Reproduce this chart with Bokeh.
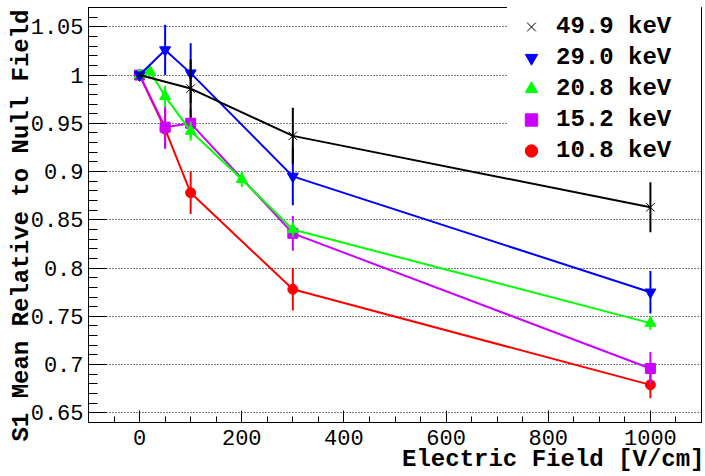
from bokeh.plotting import figure
from bokeh.models import Legend, LegendItem, FixedTicker, CustomJSTickFormatter, Title
from bokeh.embed import file_html
from bokeh.resources import INLINE

# ---- data ----
fields_499 = [0, 100, 300, 1000]
s1_499 = [1.0, 0.986, 0.937, 0.863]
err_499 = [0.0, 0.030, 0.029, 0.026]

fields_290 = [0, 50, 100, 300, 1000]
s1_290 = [1.0, 1.026, 1.002, 0.895, 0.775]
err_290 = [0.0, 0.026, 0.031, 0.030, 0.022]

fields_208 = [0, 20, 50, 100, 200, 300, 1000]
s1_208 = [1.0, 1.004, 0.978, 0.942, 0.892, 0.840, 0.743]
err_208 = [0.0, 0.007, 0.011, 0.010, 0.008, 0.008, 0.007]

fields_152 = [0, 50, 100, 300, 1000]
s1_152 = [1.0, 0.946, 0.950, 0.836, 0.696]
err_152 = [0.0, 0.022, 0.015, 0.018, 0.017]

fields_108 = [0, 50, 100, 300, 1000]
s1_108 = [1.0, 0.944, 0.878, 0.778, 0.679]
err_108 = [0.0, 0.020, 0.022, 0.022, 0.014]

x_major_ticks = [0, 200, 400, 600, 800, 1000]
x_minor_ticks = [-100, -50, 0, 50, 100, 150, 200, 250, 300, 350, 400, 450, 500,
                 550, 600, 650, 700, 750, 800, 850, 900, 950, 1000, 1050, 1100]
y_major_ticks = [0.65, 0.70, 0.75, 0.80, 0.85, 0.90, 0.95, 1.00, 1.05]
y_minor_ticks = [0.64, 0.65, 0.66, 0.67, 0.68, 0.69, 0.70, 0.71, 0.72, 0.73, 0.74,
                 0.75, 0.76, 0.77, 0.78, 0.79, 0.80, 0.81, 0.82, 0.83, 0.84, 0.85,
                 0.86, 0.87, 0.88, 0.89, 0.90, 0.91, 0.92, 0.93, 0.94, 0.95, 0.96,
                 0.97, 0.98, 0.99, 1.00, 1.01, 1.02, 1.03, 1.04, 1.05, 1.06, 1.07]

x_title = "Electric Field [V/cm]"
y_title = "S1 Mean Relative to Null Field"

series = [
    # label, x, y, err, color, marker, size
    ("10.8 keV", fields_108, s1_108, err_108, "#ff0000", "circle", 10),
    ("15.2 keV", fields_152, s1_152, err_152, "#cc00ff", "square", 10),
    ("20.8 keV", fields_208, s1_208, err_208, "#00ff00", "triangle", 11),
    ("29.0 keV", fields_290, s1_290, err_290, "#0000ff", "inverted_triangle", 11),
    ("49.9 keV", fields_499, s1_499, err_499, "#000000", "x", 12),
]

FONT = "Liberation Mono"

p = figure(width=705, height=476, x_range=(-100, 1100), y_range=(0.64, 1.07),
           output_backend="svg", toolbar_location=None,
           min_border_left=88, min_border_right=4, min_border_top=7,
           min_border_bottom=54)
p.background_fill_color = "white"
p.border_fill_color = "white"
p.outline_line_color = "black"
p.outline_line_width = 1

p.xgrid.visible = False
p.ygrid.grid_line_color = "black"
p.ygrid.grid_line_dash = "1 2"
p.ygrid.grid_line_width = 1

p.xaxis.ticker = FixedTicker(ticks=x_major_ticks, minor_ticks=x_minor_ticks)
p.yaxis.ticker = FixedTicker(ticks=y_major_ticks, minor_ticks=y_minor_ticks)
p.yaxis.formatter = CustomJSTickFormatter(
    code="return tick.toFixed(2).replace(/0+$/, '').replace(/\\.$/, '');")

for ax in (p.xaxis[0], p.yaxis[0]):
    ax.axis_line_color = "black"
    ax.major_tick_line_color = "black"
    ax.minor_tick_line_color = "black"
    ax.major_tick_out = 0
    ax.minor_tick_out = 0
    ax.major_label_text_font = FONT
    ax.major_label_text_font_size = "22px"
    ax.major_label_text_color = "black"
p.xaxis.major_tick_in = 12
p.xaxis.minor_tick_in = 6
p.yaxis.major_tick_in = 18
p.yaxis.minor_tick_in = 9
p.xaxis.major_label_standoff = 7
p.yaxis.major_label_standoff = 5

marker_renderers = {}
for label, xs, ys, es, color, marker, size in series:
    p.line(xs, ys, line_color=color, line_width=2)
    p.segment(x0=xs, y0=[y - e for y, e in zip(ys, es)],
              x1=xs, y1=[y + e for y, e in zip(ys, es)],
              line_color=color, line_width=2)
    if marker == "x":
        r = p.scatter(xs, ys, marker=marker, size=size, line_color=color,
                      line_width=1)
    else:
        r = p.scatter(xs, ys, marker=marker, size=size, fill_color=color,
                      line_color=color)
    marker_renderers[label] = r

legend_order = ["49.9 keV", "29.0 keV", "20.8 keV", "15.2 keV", "10.8 keV"]
legend = Legend(
    items=[LegendItem(label=l, renderers=[marker_renderers[l]]) for l in legend_order],
    location="top_right", margin=0, padding=4, spacing=0,
    glyph_width=40, glyph_height=31, label_height=31, label_width=141,
    label_standoff=5, label_text_font=FONT, label_text_font_style="bold",
    label_text_font_size="24px", label_text_color="black",
    border_line_alpha=0, background_fill_color="white", background_fill_alpha=1,
)
p.add_layout(legend)

# axis titles (ROOT-style, aligned to the axis end)
p.add_layout(Title(text=x_title, align="right", standoff=-8, offset=-3,
                   text_font=FONT, text_font_style="bold", text_font_size="24px",
                   text_color="black"), "below")
p.add_layout(Title(text=y_title, align="right", standoff=-14, offset=2,
                   text_font=FONT, text_font_style="bold", text_font_size="24px",
                   text_color="black"), "left")

open("out.html", "w").write(file_html(p, INLINE))
